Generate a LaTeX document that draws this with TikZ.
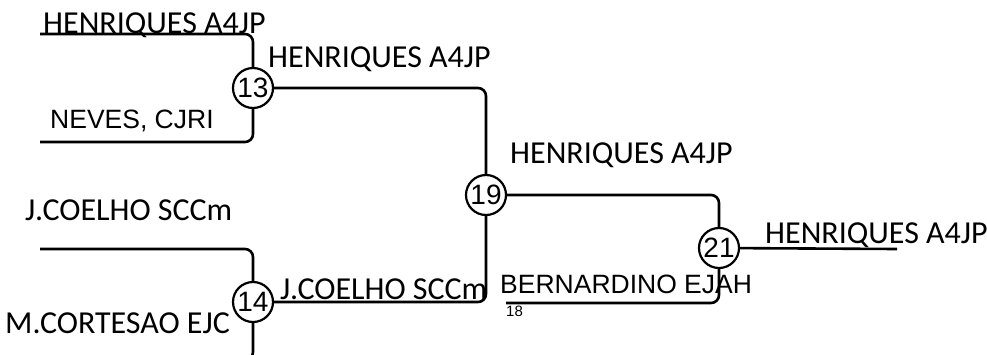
\documentclass[tikz,border=0pt]{standalone}
\usepackage{fontspec}
\setmainfont{Carlito}
\newfontfamily\arialf{Liberation Sans}
\begin{document}
\begin{tikzpicture}[x=1pt,y=-1pt,
  match/.style={circle,draw,line width=2.2pt,fill=white,inner sep=0pt,minimum size=40pt,
    font=\arialf\fontsize{28}{28}\selectfont},
  cal/.style={anchor=base west,inner sep=0pt,font=\fontsize{32}{32}\selectfont},
  ari/.style={anchor=base west,inner sep=0pt,font=\arialf\fontsize{26.5}{26.5}\selectfont},
  small/.style={anchor=base west,inner sep=0pt,font=\arialf\fontsize{15}{15}\selectfont},
  wire/.style={line width=2.6pt,rounded corners=8pt}]
\useasboundingbox (0,0) rectangle (987,354);
% feeder ends
\coordinate (a1) at (40,34);
\coordinate (a2) at (40,142);
\coordinate (a3) at (40,249);
\coordinate (a4) at (40,360);
\coordinate (a5) at (506,303);
\coordinate (a6) at (897,249);
% wires
\draw[wire] (a1) -| (253,88);
\draw[wire] (a2) -| (253,88);
\draw[wire] (a3) -| (253,302);
\draw[wire] (a4) -| (253,302);
\draw[wire] (253,88) -| (486,195);
\draw[wire] (253,302) -| (486,195);
\draw[wire] (486,195) -| (719,248);
\draw[wire] (a5) -| (719,248);
\draw[wire] (719,248) -- (a6);
% matches
\node[match] (m13) at (253,88) {13};
\node[match] (m14) at (253,302) {14};
\node[match] (m19) at (486,195) {19};
\node[match] (m21) at (719,248) {21};
% labels
\node[cal] (t1) at (43,33) {HENRIQUES A4JP};
\node[ari] (t2) at (50,128) {NEVES, CJRI};
\node[cal] (t3) at (268,67) {HENRIQUES A4JP};
\node[cal] (t4) at (510,163) {HENRIQUES A4JP};
\node[cal] (t5) at (25,220) {J.COELHO SCCm};
\node[cal] (t6) at (5,333) {M.CORTESAO EJC};
\node[cal] (t7) at (280,299) {J.COELHO SCCm};
\node[ari] (t8) at (500,293) {BERNARDINO EJAH};
\node[small] (t9) at (506,316) {18};
\node[cal] (t10) at (765,243) {HENRIQUES A4JP};
\end{tikzpicture}
\end{document}
